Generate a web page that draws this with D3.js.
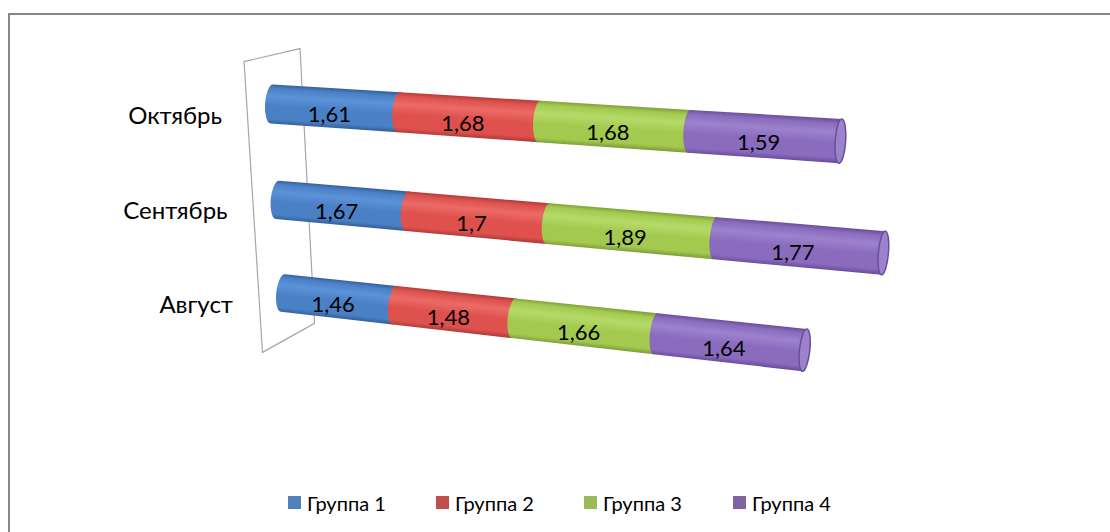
<!DOCTYPE html>
<html>
<head>
<meta charset="utf-8">
<script src="https://cdn.jsdelivr.net/npm/d3@7"></script>
<style>
  html, body { margin: 0; padding: 0; background: #fff; }
  svg { display: block; }
  text { font-family: Lato, "Open Sans", sans-serif; fill: #000; }
</style>
</head>
<body>
<svg id="chart" width="1110" height="532"></svg>
<script>
// ---- data ----
const categories = ["Октябрь", "Сентябрь", "Август"];
const seriesNames = ["Группа 1", "Группа 2", "Группа 3", "Группа 4"];
const group1 = [1.61, 1.67, 1.46];
const group2 = [1.68, 1.70, 1.48];
const group3 = [1.68, 1.89, 1.66];
const group4 = [1.59, 1.77, 1.64];
const valueDomain = [0, 7];

// ---- palette (base, light, dark) per series ----
const legendColors = ["#4F81BD", "#C0504D", "#9BBB59", "#8064A2"];
const bodyBase  = ["#4A80C5", "#DE514D", "#A3CA4F", "#8A6BBE"];
const bodyLight = ["#5C93D8", "#EC6B66", "#B6DA69", "#9C82CD"];
const bodyDark  = ["#34609A", "#B03C39", "#7F9F38", "#6A4E9A"];

const W = 1110, H = 532;
const svg = d3.select("#chart");
const defs = svg.append("defs");

// chart frame
svg.append("rect")
  .attr("x", 9).attr("y", 14)
  .attr("width", W + 40).attr("height", H + 40)
  .attr("fill", "#fff").attr("stroke", "#868686").attr("stroke-width", 2);

// ---- perspective plane holding the cylinder axes ----
// the unit square (u = value, t = category) is mapped onto a quadrilateral
const quad = [[272, 104], [884, 144], [877, 358], [283, 293]]; // (0,0) (1,0) (1,1) (0,1)
const homography = (() => {
  const [[x0, y0], [x1, y1], [x2, y2], [x3, y3]] = quad;
  const sx = x0 - x1 + x2 - x3, sy = y0 - y1 + y2 - y3;
  const dx1 = x1 - x2, dx2 = x3 - x2, dy1 = y1 - y2, dy2 = y3 - y2;
  const den = dx1 * dy2 - dx2 * dy1;
  const g = (sx * dy2 - dx2 * sy) / den;
  const h = (dx1 * sy - sx * dy1) / den;
  return {
    a: x1 - x0 + g * x1, b: x3 - x0 + h * x3, c: x0,
    d: y1 - y0 + g * y1, e: y3 - y0 + h * y3, f: y0, g, h
  };
})();
function project(u, t) {
  const m = homography;
  const w = m.g * u + m.h * t + 1;
  return [(m.a * u + m.b * t + m.c) / w, (m.d * u + m.e * t + m.f) / w, w];
}

const valueScale = d3.scaleLinear().domain(valueDomain).range([0, 1]);
const catScale = d3.scalePoint().domain(categories).range([0, 1]);

const rows = categories.map((c, i) => ({
  category: c,
  "Группа 1": group1[i], "Группа 2": group2[i],
  "Группа 3": group3[i], "Группа 4": group4[i]
}));
const stacked = d3.stack().keys(seriesNames)(rows);

const fmt = d3.formatLocale({ decimal: ",", thousands: "\u00a0", grouping: [3], currency: ["", " ₽"] }).format("~g");

// ---- side wall at value 0 ----
const wallT = [-0.26, 1.235];
const wallShift = [3, 2];
const wallDepthTop = [28, -6.5], wallDepthBottom = [26, -14.5];
{
  const pTop = project(0, wallT[0]), pBot = project(0, wallT[1]);
  const pts = [
    [pTop[0] - wallDepthTop[0], pTop[1] - wallDepthTop[1]],
    [pTop[0] + wallDepthTop[0], pTop[1] + wallDepthTop[1]],
    [pBot[0] + wallDepthBottom[0], pBot[1] + wallDepthBottom[1]],
    [pBot[0] - wallDepthBottom[0], pBot[1] - wallDepthBottom[1]]
  ].map(([x, y]) => [x + wallShift[0], y + wallShift[1]]);
  svg.append("path")
    .attr("d", d3.line()(pts) + "Z")
    .attr("fill", "none").attr("stroke", "#a6a6a6").attr("stroke-width", 1.2);
}

// ---- cylinders ----
const R0 = 19.5;
const gBars = svg.append("g");
let gradId = 0;

categories.forEach((cat, ci) => {
  const t = catScale(cat);
  const a0 = project(0, t), a1 = project(1, t);
  let dx = a1[0] - a0[0], dy = a1[1] - a0[1];
  const len = Math.hypot(dx, dy); dx /= len; dy /= len;
  const nx = -dy, ny = dx;            // perpendicular, pointing downward
  const ang = Math.atan2(ny, nx) * 180 / Math.PI;

  stacked.forEach((layer, si) => {
    const [v0, v1] = layer[ci];
    const u0 = valueScale(v0), u1 = valueScale(v1);
    const c0 = project(u0, t), c1 = project(u1, t);
    const r0 = R0 / c0[2], r1 = R0 / c1[2];
    const e0 = r0 * (0.36 - 0.13 * u0), e1 = r1 * (0.36 - 0.13 * u1);
    const T0 = [c0[0] - nx * r0, c0[1] - ny * r0], B0 = [c0[0] + nx * r0, c0[1] + ny * r0];
    const T1 = [c1[0] - nx * r1, c1[1] - ny * r1], B1 = [c1[0] + nx * r1, c1[1] + ny * r1];

    const id = "seg" + (gradId++);
    const mx = (c0[0] + c1[0]) / 2, my = (c0[1] + c1[1]) / 2, mr = (r0 + r1) / 2;
    const grad = defs.append("linearGradient").attr("id", id)
      .attr("gradientUnits", "userSpaceOnUse")
      .attr("x1", mx - nx * mr).attr("y1", my - ny * mr)
      .attr("x2", mx + nx * mr).attr("y2", my + ny * mr);
    [[0, bodyDark[si]], [0.1, bodyBase[si]], [0.3, bodyLight[si]], [0.55, bodyBase[si]],
     [0.88, bodyBase[si]], [1, bodyDark[si]]].forEach(([o, c]) =>
      grad.append("stop").attr("offset", o).attr("stop-color", c));

    const d = `M${T0[0]},${T0[1]}` +
      `A${r0},${e0} ${ang} 0 0 ${B0[0]},${B0[1]}` +
      `L${B1[0]},${B1[1]}` +
      `A${r1},${e1} ${ang} 0 0 ${T1[0]},${T1[1]}Z`;
    gBars.append("path").attr("d", d).attr("fill", `url(#${id})`);

    if (si === stacked.length - 1) {
      // visible end face of the cylinder
      gBars.append("ellipse")
        .attr("transform", `translate(${c1[0]},${c1[1]}) rotate(${ang})`)
        .attr("rx", r1).attr("ry", e1)
        .attr("fill", bodyLight[si]).attr("stroke", bodyDark[si]).attr("stroke-width", 1.5);
    }
  });
});

// ---- value labels ----
categories.forEach((cat, ci) => {
  const t = catScale(cat);
  stacked.forEach((layer, si) => {
    const [v0, v1] = layer[ci];
    const p = project(valueScale((v0 + v1) / 2), t);
    svg.append("text")
      .attr("x", p[0] - 5).attr("y", p[1] + 5 / p[2])
      .attr("text-anchor", "middle").attr("dominant-baseline", "central")
      .attr("font-size", 22)
      .text(fmt(v1 - v0));
  });
});

// ---- category labels ----
categories.forEach(cat => {
  const p = project(0, catScale(cat));
  svg.append("text")
    .attr("x", p[0] - 50).attr("y", p[1] + 10)
    .attr("text-anchor", "end").attr("dominant-baseline", "central")
    .attr("font-size", 24)
    .text(cat);
});

// ---- legend ----
const legendX = [288, 436, 584, 733];
const legendY = 503;
const legend = svg.append("g");
seriesNames.forEach((name, i) => {
  legend.append("rect")
    .attr("x", legendX[i]).attr("y", legendY - 7).attr("width", 13).attr("height", 13)
    .attr("fill", legendColors[i]);
  legend.append("text")
    .attr("x", legendX[i] + 19).attr("y", legendY)
    .attr("dominant-baseline", "central").attr("font-size", 20)
    .text(name);
});
</script>
</body>
</html>
